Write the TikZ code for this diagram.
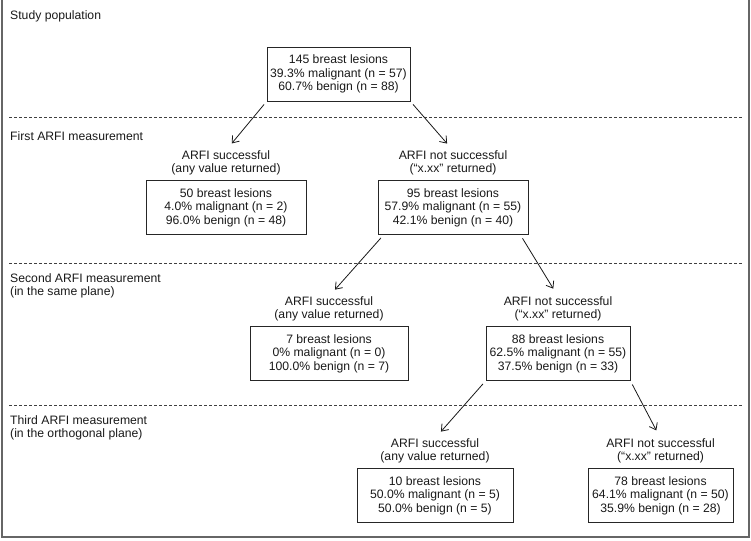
\documentclass[tikz,border=0pt]{standalone}
\usepackage{fontspec}
\setmainfont{Liberation Sans}
\usetikzlibrary{arrows.meta}
\tikzset{
	lesion/.style={draw=black!85, line width=0.8pt, align=center, minimum height=54pt, inner sep=0pt},
	head/.style={align=center, inner sep=0pt},
	stage/.style={anchor=west, align=left, inner sep=0pt},
	sep/.style={draw=black!75, line width=0.7pt, dash pattern=on 3pt off 2pt},
	arr/.style={-{Straight Barb[length=6pt,width=9pt]}, line width=0.8pt, shorten <=4pt, shorten >=9pt}
}
% heading and lesion box of one outcome
\newcommand{\branch}[6]{
	\node[head] (H#1) at (#2,#3+46) {#5};
	\node[lesion, minimum width=#4] (B#1) at (#2,#3+90.5) {#6};
}

\begin{document}
\begin{tikzpicture}[x=1pt,y=-1pt,font=\fontsize{12.2pt}{13.5pt}\selectfont,color=black!90]
	\useasboundingbox (0,0) rectangle (751,540);
	\draw[line width=1.5pt, black!60] (2,-2) -- (2,537) -- (749,537) -- (749,-2);
	\foreach \d in {117,263,405}
		\draw[sep] (9,\d) -- (743,\d);
	\node[stage] (L0) at (10,16) {Study population};
	\node[stage] (L1) at (10,136) {First ARFI measurement};
	\node[stage] (L2) at (10,286) {Second ARFI measurement\\(in the same plane)};
	\node[stage] (L3) at (10,428) {Third ARFI measurement\\(in the orthogonal plane)};
	\node[lesion, minimum width=143pt] (B0) at (338.5,74) {145 breast lesions\\39.3\% malignant (n = 57)\\60.7\% benign (n = 88)};
	\branch{s1}{226}{117}{160pt}{ARFI successful\\(any value returned)}{50 breast lesions\\4.0\% malignant (n = 2)\\96.0\% benign (n = 48)}
	\branch{f1}{453}{117}{150pt}{ARFI not successful\\(``x.xx'' returned)}{95 breast lesions\\57.9\% malignant (n = 55)\\42.1\% benign (n = 40)}
	\branch{s2}{329}{263}{158pt}{ARFI successful\\(any value returned)}{7 breast lesions\\0\% malignant (n = 0)\\100.0\% benign (n = 7)}
	\branch{f2}{558}{263}{144pt}{ARFI not successful\\(``x.xx'' returned)}{88 breast lesions\\62.5\% malignant (n = 55)\\37.5\% benign (n = 33)}
	\branch{s3}{435}{405}{156pt}{ARFI successful\\(any value returned)}{10 breast lesions\\50.0\% malignant (n = 5)\\50.0\% benign (n = 5)}
	\branch{f3}{660.5}{405}{145pt}{ARFI not successful\\(``x.xx'' returned)}{78 breast lesions\\64.1\% malignant (n = 50)\\35.9\% benign (n = 28)}
	\draw[arr] (B0.south west) -- (Hs1.north);
	\draw[arr] (B0.south east) -- (Hf1.north);
	\draw[arr] ([xshift=6pt]Bf1.south west) -- (Hs2.north);
	\draw[arr] ([xshift=-8pt]Bf1.south east) -- (Hf2.north);
	\draw[arr] (Bf2.south west) -- (Hs3.north);
	\draw[arr] (Bf2.south east) -- (Hf3.north);
\end{tikzpicture}
\end{document}
